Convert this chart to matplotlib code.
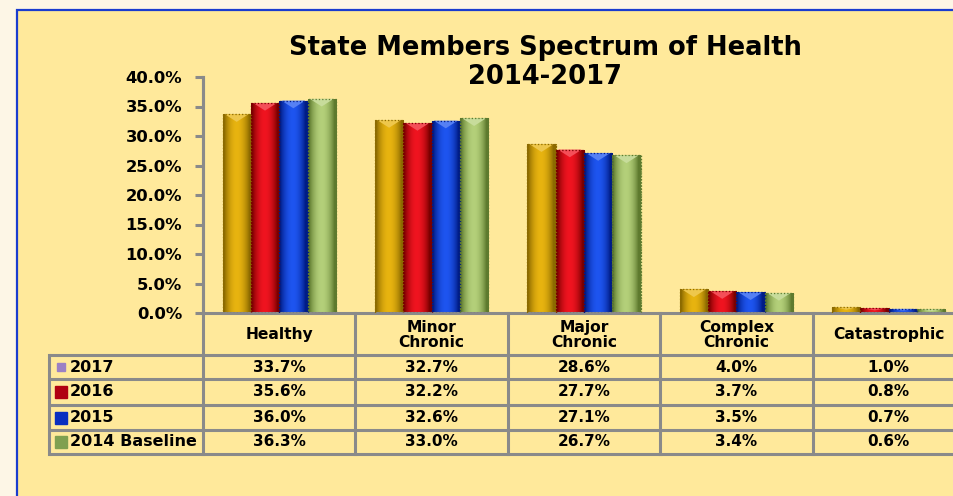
import numpy as np
import matplotlib
matplotlib.use("Agg")
import matplotlib.pyplot as plt
from matplotlib.patches import Rectangle, Polygon
from matplotlib.colors import to_rgb

categories = ["Healthy", "Minor\nChronic", "Major\nChronic", "Complex\nChronic", "Catastrophic"]
series = ["2017", "2016", "2015", "2014 Baseline"]
v2017 = [33.7, 32.7, 28.6, 4.0, 1.0]
v2016 = [35.6, 32.2, 27.7, 3.7, 0.8]
v2015 = [36.0, 32.6, 27.1, 3.5, 0.7]
v2014 = [36.3, 33.0, 26.7, 3.4, 0.6]
values = [v2017, v2016, v2015, v2014]

bar_light = ["#E8B410", "#F01420", "#1E55F0", "#B4D07A"]
bar_dark = ["#8C6A00", "#7A0000", "#001C85", "#5E7A2E"]
key_cols = ["#9B80C4", "#B00010", "#0A2FC0", "#7FA050"]

W, H = 954, 496
FONT = "DejaVu Sans"
grid_col = "#8A8A8A"

fig = plt.figure(figsize=(W / 100, H / 100), dpi=100)
fig.patch.set_facecolor("#FDF6E6")

# background overlay in pixel coords
bg = fig.add_axes([0, 0, 1, 1], zorder=0)
bg.set_xlim(0, W)
bg.set_ylim(H, 0)
bg.axis("off")
bg.add_patch(Rectangle((17, 10), 960, 500, facecolor="#FFE99B", edgecolor="#1A3CCF", lw=1.6))

bg.text(545, 48, "State Members Spectrum of Health", ha="center", va="center",
        fontsize=18.5, fontweight="bold", family=FONT)
bg.text(545, 77, "2014-2017", ha="center", va="center",
        fontsize=18.5, fontweight="bold", family=FONT)

x0, x1, ytop, ybot = 203, 965, 77, 313
colw = (x1 - x0) / len(categories)

ax = fig.add_axes([x0 / W, (H - ybot) / H, (x1 - x0) / W, (ybot - ytop) / H], zorder=1)
ax.patch.set_alpha(0)

n = len(series)
bw = 0.186
x = np.arange(len(categories))
grad_t = np.linspace(0, 1, 64)
shape = np.sin(np.pi * np.clip(grad_t * 1.15 - 0.05, 0, 1)) ** 0.8

for k in range(n):
    pos = x + (k - (n - 1) / 2) * bw
    bars = ax.bar(pos, values[k], width=bw, color=bar_light[k],
                  edgecolor=bar_dark[k], lw=0.8, ls=":", zorder=2)
    lo = np.array(to_rgb(bar_dark[k]))
    hi = np.array(to_rgb(bar_light[k]))
    img = lo[None, :] + (hi - lo)[None, :] * shape[:, None]
    for b in bars:
        bx, by = b.get_x(), b.get_height()
        im = ax.imshow(img[None, :, :], extent=(bx, bx + bw, 0, by), aspect="auto",
                       zorder=2.5, interpolation="bilinear")
        im.set_clip_path(b)
        # pyramid-like top
        d = min(1.3, by * 0.45)
        top = hi + (1 - hi) * 0.25
        ax.add_patch(Polygon([(bx + bw * 0.08, by), (bx + bw * 0.92, by), (bx + bw / 2, by - d)],
                             closed=True, facecolor=top, edgecolor="none", zorder=3))
        ax.add_patch(Rectangle((bx, 0), bw, by, fill=False, edgecolor=bar_dark[k],
                               lw=0.9, ls=":", zorder=3.5))

ax.set_xlim(-0.5, len(categories) - 0.5)
ax.set_ylim(0, 40)
ax.set_yticks(np.arange(0, 41, 5))
ax.set_yticklabels([f"{t:.1f}%" for t in np.arange(0, 41, 5)], fontsize=11.8,
                   fontweight="bold", family=FONT)
ax.set_xticks([])
for s in ["top", "right"]:
    ax.spines[s].set_visible(False)
for s in ["left", "bottom"]:
    ax.spines[s].set_color(grid_col)
    ax.spines[s].set_linewidth(2.2)
ax.tick_params(axis="y", length=6, width=2.2, color=grid_col, pad=9)

# data table
rows_y = [313, 355, 379, 405, 430, 454]
tl = 49
for yy in rows_y[1:]:
    bg.plot([tl, x1], [yy, yy], color=grid_col, lw=2.2, solid_capstyle="butt")
bg.plot([tl, tl], [rows_y[1], rows_y[-1]], color=grid_col, lw=2.2)
for i in range(len(categories) + 1):
    xx = x0 + i * colw
    bg.plot([xx, xx], [ytop if i == 0 else rows_y[0], rows_y[-1]], color=grid_col, lw=2.2)

for i, c in enumerate(categories):
    cx = x0 + (i + 0.5) * colw
    bg.text(cx, (rows_y[0] + rows_y[1]) / 2 + 1, c, ha="center", va="center",
            fontsize=11.2, fontweight="bold", family=FONT, linespacing=0.95)

for k, s in enumerate(series):
    cy = (rows_y[k + 1] + rows_y[k + 2]) / 2
    ms = 6 if k == 0 else 8
    bg.plot([61], [cy], marker="s", ms=ms, color=key_cols[k], mec=key_cols[k])
    bg.text(70, cy, s, ha="left", va="center", fontsize=11.5, fontweight="bold", family=FONT)
    for i in range(len(categories)):
        cx = x0 + (i + 0.5) * colw
        bg.text(cx, cy, f"{values[k][i]:.1f}%", ha="center", va="center",
                fontsize=11, fontweight="bold", family=FONT)

fig.savefig("out.png", dpi=100, facecolor=fig.get_facecolor())
